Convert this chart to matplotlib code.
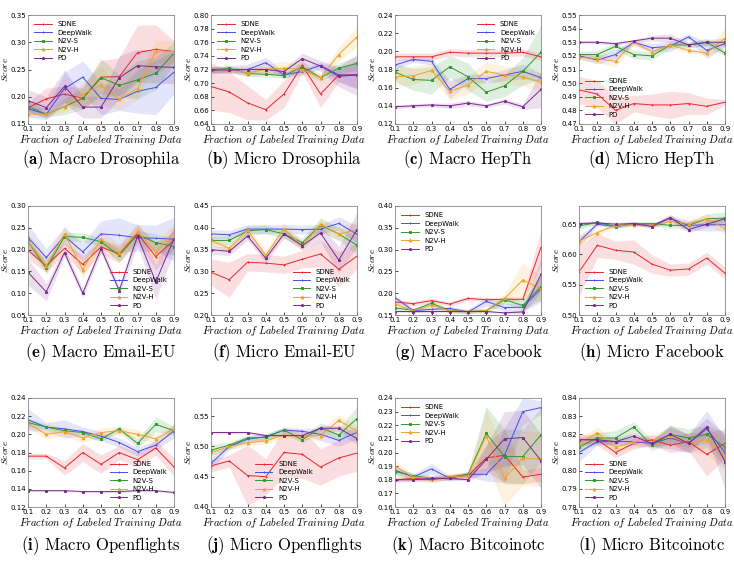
import numpy as np
import matplotlib
matplotlib.use("Agg")
import matplotlib.pyplot as plt

plt.rcParams['mathtext.fontset'] = 'cm'

fractions = [0.1, 0.2, 0.3, 0.4, 0.5, 0.6, 0.7, 0.8, 0.9]
methods = ["SDNE", "DeepWalk", "N2V-S", "N2V-H", "PD"]
colors = ["#e8262f", "#4b4bea", "#2e9a2e", "#f2a22a", "#7a2a8c"]
markers = ["+", "+", "s", "^", "*"]

# order of rows: SDNE, DeepWalk, N2V-S, N2V-H, PD
A_MEAN = [[0.180, 0.196, 0.205, 0.197, 0.236, 0.237, 0.281, 0.287, 0.283],
          [0.178, 0.168, 0.215, 0.236, 0.197, 0.195, 0.210, 0.217, 0.245],
          [0.182, 0.168, 0.182, 0.197, 0.235, 0.221, 0.231, 0.243, 0.280],
          [0.168, 0.168, 0.182, 0.205, 0.221, 0.195, 0.215, 0.284, 0.283],
          [0.193, 0.180, 0.219, 0.181, 0.181, 0.235, 0.257, 0.255, 0.254]]
A_STD = [[0.010, 0.020, 0.015, 0.020, 0.030, 0.035, 0.050, 0.045, 0.020],
         [0.015, 0.010, 0.030, 0.030, 0.030, 0.020, 0.040, 0.050, 0.040],
         [0.010, 0.005, 0.015, 0.020, 0.035, 0.020, 0.035, 0.030, 0.020],
         [0.005, 0.005, 0.010, 0.020, 0.035, 0.020, 0.020, 0.020, 0.020],
         [0.020, 0.020, 0.030, 0.020, 0.020, 0.040, 0.030, 0.030, 0.030]]

B_MEAN = [[0.695, 0.687, 0.671, 0.661, 0.684, 0.726, 0.684, 0.712, 0.712],
          [0.719, 0.720, 0.720, 0.730, 0.712, 0.717, 0.726, 0.712, 0.712],
          [0.719, 0.722, 0.714, 0.713, 0.711, 0.724, 0.708, 0.722, 0.729],
          [0.720, 0.720, 0.715, 0.720, 0.722, 0.720, 0.708, 0.742, 0.768],
          [0.720, 0.719, 0.720, 0.720, 0.717, 0.736, 0.725, 0.710, 0.712]]
B_STD = [[0.035, 0.030, 0.025, 0.015, 0.020, 0.010, 0.020, 0.010, 0.020],
         [0.005, 0.005, 0.008, 0.008, 0.005, 0.005, 0.005, 0.010, 0.020],
         [0.004, 0.004, 0.004, 0.004, 0.004, 0.006, 0.004, 0.008, 0.010],
         [0.005, 0.005, 0.006, 0.008, 0.010, 0.008, 0.006, 0.010, 0.015],
         [0.005, 0.004, 0.004, 0.004, 0.005, 0.008, 0.008, 0.015, 0.030]]

C_MEAN = [[0.194, 0.194, 0.194, 0.199, 0.198, 0.198, 0.198, 0.199, 0.194],
          [0.185, 0.191, 0.189, 0.158, 0.170, 0.170, 0.174, 0.178, 0.171],
          [0.177, 0.169, 0.168, 0.183, 0.172, 0.155, 0.162, 0.178, 0.199],
          [0.172, 0.173, 0.179, 0.156, 0.163, 0.178, 0.174, 0.172, 0.166],
          [0.139, 0.140, 0.141, 0.140, 0.143, 0.140, 0.145, 0.139, 0.158]]
C_STD = [[0.004, 0.004, 0.004, 0.004, 0.004, 0.004, 0.004, 0.004, 0.004],
         [0.005, 0.003, 0.004, 0.010, 0.005, 0.005, 0.006, 0.008, 0.005],
         [0.010, 0.012, 0.015, 0.012, 0.015, 0.010, 0.012, 0.015, 0.030],
         [0.010, 0.010, 0.008, 0.010, 0.010, 0.010, 0.010, 0.010, 0.010],
         [0.002, 0.002, 0.002, 0.003, 0.003, 0.002, 0.003, 0.003, 0.020]]

D_MEAN = [[0.495, 0.492, 0.480, 0.485, 0.484, 0.484, 0.485, 0.483, 0.486],
          [0.520, 0.517, 0.521, 0.530, 0.526, 0.527, 0.534, 0.524, 0.529],
          [0.521, 0.521, 0.527, 0.521, 0.520, 0.528, 0.528, 0.530, 0.522],
          [0.519, 0.518, 0.516, 0.530, 0.523, 0.528, 0.524, 0.522, 0.533],
          [0.530, 0.530, 0.529, 0.531, 0.533, 0.533, 0.528, 0.530, 0.530]]
D_STD = [[0.010, 0.010, 0.010, 0.006, 0.008, 0.010, 0.008, 0.006, 0.002],
         [0.002, 0.003, 0.003, 0.002, 0.003, 0.004, 0.002, 0.006, 0.002],
         [0.002, 0.003, 0.003, 0.003, 0.003, 0.002, 0.002, 0.003, 0.002],
         [0.002, 0.003, 0.004, 0.002, 0.002, 0.002, 0.002, 0.002, 0.008],
         [0.001, 0.001, 0.001, 0.001, 0.002, 0.003, 0.002, 0.002, 0.003]]

E_MEAN = [[0.198, 0.163, 0.203, 0.166, 0.206, 0.190, 0.237, 0.184, 0.222],
          [0.228, 0.182, 0.231, 0.195, 0.236, 0.233, 0.227, 0.226, 0.224],
          [0.219, 0.157, 0.230, 0.228, 0.218, 0.187, 0.234, 0.216, 0.207],
          [0.220, 0.163, 0.236, 0.154, 0.225, 0.192, 0.241, 0.194, 0.240],
          [0.148, 0.103, 0.193, 0.100, 0.202, 0.106, 0.231, 0.126, 0.225]]
E_STD = [[0.020, 0.015, 0.015, 0.020, 0.015, 0.020, 0.020, 0.030, 0.020],
         [0.030, 0.020, 0.020, 0.020, 0.030, 0.040, 0.030, 0.030, 0.050],
         [0.010, 0.010, 0.010, 0.010, 0.010, 0.015, 0.010, 0.020, 0.020],
         [0.020, 0.020, 0.020, 0.020, 0.020, 0.020, 0.020, 0.020, 0.020],
         [0.030, 0.020, 0.010, 0.010, 0.010, 0.010, 0.020, 0.040, 0.030]]

F_MEAN = [[0.298, 0.281, 0.321, 0.319, 0.315, 0.328, 0.340, 0.305, 0.335],
          [0.386, 0.384, 0.397, 0.397, 0.397, 0.396, 0.397, 0.410, 0.385],
          [0.371, 0.371, 0.393, 0.396, 0.386, 0.366, 0.406, 0.386, 0.360],
          [0.371, 0.353, 0.395, 0.337, 0.398, 0.358, 0.408, 0.386, 0.395],
          [0.350, 0.346, 0.381, 0.330, 0.386, 0.359, 0.388, 0.326, 0.396]]
F_STD = [[0.030, 0.040, 0.020, 0.020, 0.020, 0.020, 0.030, 0.040, 0.030],
         [0.010, 0.010, 0.010, 0.010, 0.010, 0.010, 0.010, 0.015, 0.020],
         [0.010, 0.010, 0.010, 0.010, 0.010, 0.010, 0.015, 0.015, 0.020],
         [0.010, 0.010, 0.010, 0.010, 0.015, 0.010, 0.015, 0.015, 0.020],
         [0.010, 0.010, 0.010, 0.010, 0.010, 0.010, 0.020, 0.030, 0.040]]

G_MEAN = [[0.180, 0.176, 0.183, 0.175, 0.188, 0.185, 0.186, 0.186, 0.305],
          [0.190, 0.160, 0.163, 0.165, 0.157, 0.181, 0.167, 0.168, 0.210],
          [0.166, 0.161, 0.177, 0.160, 0.158, 0.160, 0.185, 0.172, 0.215],
          [0.175, 0.160, 0.172, 0.160, 0.158, 0.160, 0.188, 0.230, 0.210],
          [0.158, 0.158, 0.158, 0.158, 0.158, 0.158, 0.155, 0.157, 0.243]]
G_STD = [[0.005, 0.005, 0.005, 0.005, 0.005, 0.005, 0.005, 0.005, 0.040],
         [0.005, 0.005, 0.005, 0.005, 0.005, 0.010, 0.010, 0.010, 0.030],
         [0.005, 0.005, 0.005, 0.005, 0.005, 0.005, 0.008, 0.010, 0.030],
         [0.005, 0.005, 0.005, 0.005, 0.005, 0.005, 0.010, 0.040, 0.030],
         [0.002, 0.002, 0.002, 0.002, 0.002, 0.002, 0.002, 0.005, 0.040]]

H_MEAN = [[0.571, 0.615, 0.607, 0.604, 0.584, 0.574, 0.576, 0.594, 0.569],
          [0.621, 0.650, 0.646, 0.651, 0.648, 0.660, 0.648, 0.649, 0.649],
          [0.647, 0.653, 0.646, 0.651, 0.651, 0.648, 0.648, 0.659, 0.660],
          [0.622, 0.636, 0.648, 0.649, 0.648, 0.655, 0.651, 0.659, 0.643],
          [0.651, 0.652, 0.650, 0.651, 0.646, 0.661, 0.641, 0.650, 0.659]]
H_STD = [[0.040, 0.020, 0.015, 0.020, 0.015, 0.010, 0.010, 0.010, 0.010],
         [0.010, 0.003, 0.003, 0.003, 0.003, 0.005, 0.008, 0.010, 0.010],
         [0.005, 0.003, 0.003, 0.003, 0.003, 0.005, 0.005, 0.008, 0.010],
         [0.010, 0.005, 0.003, 0.003, 0.003, 0.005, 0.005, 0.008, 0.010],
         [0.003, 0.003, 0.003, 0.003, 0.003, 0.005, 0.005, 0.005, 0.005]]

I_MEAN = [[0.176, 0.176, 0.163, 0.180, 0.167, 0.180, 0.172, 0.185, 0.164],
          [0.216, 0.208, 0.206, 0.203, 0.198, 0.191, 0.181, 0.188, 0.204],
          [0.213, 0.208, 0.204, 0.202, 0.195, 0.206, 0.190, 0.211, 0.204],
          [0.212, 0.200, 0.203, 0.196, 0.202, 0.204, 0.200, 0.195, 0.206],
          [0.138, 0.138, 0.138, 0.137, 0.137, 0.137, 0.138, 0.138, 0.136]]
I_STD = [[0.003, 0.003, 0.008, 0.010, 0.010, 0.008, 0.008, 0.008, 0.010],
         [0.012, 0.005, 0.010, 0.005, 0.005, 0.005, 0.005, 0.005, 0.008],
         [0.005, 0.003, 0.003, 0.003, 0.003, 0.003, 0.005, 0.008, 0.005],
         [0.005, 0.005, 0.005, 0.005, 0.005, 0.005, 0.005, 0.005, 0.005],
         [0.001, 0.001, 0.001, 0.001, 0.001, 0.001, 0.001, 0.001, 0.001]]

J_MEAN = [[0.468, 0.476, 0.452, 0.450, 0.490, 0.487, 0.466, 0.481, 0.489],
          [0.472, 0.500, 0.512, 0.516, 0.527, 0.525, 0.520, 0.510, 0.523],
          [0.494, 0.502, 0.514, 0.515, 0.527, 0.511, 0.531, 0.519, 0.546],
          [0.490, 0.500, 0.506, 0.509, 0.519, 0.517, 0.518, 0.543, 0.525],
          [0.523, 0.523, 0.523, 0.518, 0.518, 0.518, 0.530, 0.530, 0.513]]
J_STD = [[0.010, 0.010, 0.050, 0.030, 0.040, 0.040, 0.030, 0.030, 0.030],
         [0.010, 0.005, 0.005, 0.005, 0.005, 0.005, 0.010, 0.010, 0.010],
         [0.010, 0.005, 0.005, 0.005, 0.005, 0.005, 0.008, 0.010, 0.020],
         [0.005, 0.005, 0.005, 0.005, 0.005, 0.005, 0.008, 0.010, 0.010],
         [0.002, 0.002, 0.002, 0.002, 0.002, 0.002, 0.004, 0.005, 0.010]]

K_MEAN = [[0.180, 0.181, 0.180, 0.182, 0.183, 0.196, 0.198, 0.182, 0.184],
          [0.187, 0.182, 0.188, 0.181, 0.184, 0.184, 0.198, 0.230, 0.233],
          [0.186, 0.183, 0.181, 0.182, 0.184, 0.214, 0.197, 0.197, 0.213],
          [0.190, 0.182, 0.181, 0.182, 0.183, 0.212, 0.181, 0.196, 0.195],
          [0.180, 0.180, 0.181, 0.181, 0.180, 0.195, 0.210, 0.211, 0.194]]
K_STD = [[0.002, 0.002, 0.002, 0.002, 0.002, 0.010, 0.020, 0.005, 0.005],
         [0.003, 0.002, 0.004, 0.002, 0.002, 0.005, 0.020, 0.010, 0.005],
         [0.003, 0.002, 0.002, 0.002, 0.002, 0.020, 0.020, 0.020, 0.020],
         [0.004, 0.002, 0.002, 0.002, 0.002, 0.020, 0.020, 0.020, 0.020],
         [0.001, 0.001, 0.001, 0.001, 0.001, 0.010, 0.020, 0.020, 0.020]]

L_MEAN = [[0.817, 0.817, 0.810, 0.815, 0.817, 0.814, 0.816, 0.809, 0.815],
          [0.810, 0.816, 0.816, 0.816, 0.815, 0.818, 0.815, 0.823, 0.810],
          [0.813, 0.818, 0.818, 0.824, 0.814, 0.820, 0.818, 0.820, 0.813],
          [0.815, 0.821, 0.813, 0.816, 0.816, 0.819, 0.815, 0.817, 0.808],
          [0.817, 0.817, 0.816, 0.819, 0.815, 0.820, 0.815, 0.824, 0.805]]
L_STD = [[0.003, 0.003, 0.003, 0.003, 0.003, 0.004, 0.005, 0.012, 0.008],
         [0.005, 0.002, 0.002, 0.002, 0.002, 0.006, 0.005, 0.010, 0.008],
         [0.003, 0.003, 0.004, 0.003, 0.003, 0.005, 0.005, 0.005, 0.008],
         [0.003, 0.003, 0.003, 0.003, 0.003, 0.005, 0.005, 0.008, 0.008],
         [0.002, 0.002, 0.002, 0.002, 0.002, 0.005, 0.005, 0.005, 0.015]]

CAPTIONS = ["Macro Drosophila", "Micro Drosophila", "Macro HepTh", "Micro HepTh",
            "Macro Email-EU", "Micro Email-EU", "Macro Facebook", "Micro Facebook",
            "Macro Openflights", "Micro Openflights", "Macro Bitcoinotc", "Micro Bitcoinotc"]
LETTERS = ["a", "b", "c", "d", "e", "f", "g", "h", "i", "j", "k", "l"]
YLIMS = [(0.15, 0.35), (0.64, 0.80), (0.12, 0.24), (0.47, 0.55),
         (0.05, 0.30), (0.20, 0.45), (0.15, 0.40), (0.50, 0.68),
         (0.12, 0.24), (0.40, 0.58), (0.16, 0.24), (0.78, 0.84)]
YSTEPS = [0.05, 0.02, 0.02, 0.01, 0.05, 0.05, 0.05, 0.05, 0.02, 0.05, 0.01, 0.01]
LEGEND_LOCS = ["upper left", "upper left", "upper right", "lower left",
               "lower right", "lower right", "upper left", "lower left",
               "lower right", "lower center", "upper left", "lower left"]

MEANS = [A_MEAN, B_MEAN, C_MEAN, D_MEAN, E_MEAN, F_MEAN, G_MEAN, H_MEAN, I_MEAN, J_MEAN, K_MEAN, L_MEAN]
STDS = [A_STD, B_STD, C_STD, D_STD, E_STD, F_STD, G_STD, H_STD, I_STD, J_STD, K_STD, L_STD]

W, H = 734, 561
fig = plt.figure(figsize=(W / 100, H / 100), dpi=100)

col_left = [28, 211, 395, 579]
row_top = [15, 206, 398]
ax_w, ax_h = 146, 109
caption_y = [160, 353, 546]

for idx in range(12):
    r, c = divmod(idx, 4)
    left = col_left[c] / W
    bottom = 1 - (row_top[r] + ax_h) / H
    ax = fig.add_axes([left, bottom, ax_w / W, ax_h / H])
    x = np.array(fractions)
    for m in range(5):
        mean = np.array(MEANS[idx][m])
        sd = np.array(STDS[idx][m])
        ax.fill_between(x, mean - sd, mean + sd, color=colors[m], alpha=0.15, linewidth=0)
        ax.plot(x, mean, color=colors[m], marker=markers[m], markersize=2,
                linewidth=0.7, label=methods[m], markeredgewidth=0.7)
    lo, hi = YLIMS[idx]
    ax.set_xlim(0.1, 0.9)
    ax.set_ylim(lo, hi)
    ax.set_xticks(fractions)
    ax.set_xticklabels([f"{v:.1f}" for v in fractions])
    yt = np.arange(lo, hi + 1e-9, YSTEPS[idx])
    ax.set_yticks(yt)
    ax.set_yticklabels([f"{v:.2f}" for v in yt])
    ax.tick_params(labelsize=5, length=2, width=0.5, direction='in', pad=1.2)
    for s in ax.spines.values():
        s.set_linewidth(0.6)
        s.set_color('#888888')
    ax.set_xlabel(r"$Fraction\ of\ Labeled\ Training\ Data$", fontsize=7.5, labelpad=1)
    ax.set_ylabel(r"$Score$", fontsize=7)
    ax.yaxis.set_label_coords(-18.0 / ax_w, 0.5)
    ax.legend(loc=LEGEND_LOCS[idx], fontsize=5, frameon=False, handlelength=2.5,
              labelspacing=0.35, borderaxespad=0.5)
    cx = (col_left[c] + ax_w / 2) / W
    fig.text(cx, 1 - caption_y[r] / H, r"$\mathbf{(" + LETTERS[idx] + r")}$ " + CAPTIONS[idx],
             family='cmr10', fontsize=12, ha='center', va='center')

fig.savefig("out.png", dpi=100)
